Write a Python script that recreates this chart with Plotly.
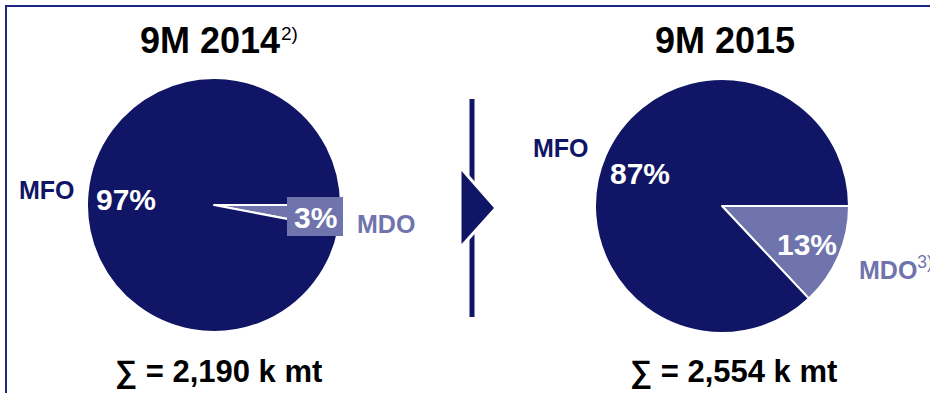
import plotly.graph_objects as go

# ---- data ----
fuel_types = ["MDO", "MFO"]
periods = ["9M 2014", "9M 2015"]
share_2014 = [3, 97]
share_2015 = [13, 87]
totals_kmt = ["2,190", "2,554"]
title_notes = ["2)", ""]
mdo_notes = ["", "3)"]

W, H = 930, 393
NAVY = "#111566"
LILAC = "#6F74AD"
FONT = "Arial, Liberation Sans, sans-serif"


def px(x):
    return x / W


def py(y):
    return 1 - y / H


fig = go.Figure()

centers = [(214, 205), (722, 206)]
R = 127
for (cx, cy), shares in zip(centers, [share_2014, share_2015]):
    fig.add_trace(go.Pie(
        labels=fuel_types, values=shares, sort=False, direction="clockwise",
        rotation=90, textinfo="none", hoverinfo="skip", showlegend=False,
        marker=dict(colors=[LILAC, NAVY], line=dict(color="white", width=2)),
        domain=dict(x=[px(cx - R), px(cx + R)], y=[py(cy + R), py(cy - R)]),
    ))

ann = []


def add(text, x, y, size, color, xanchor="center", bold=True):
    ann.append(dict(
        text=f"<b>{text}</b>" if bold else text, x=px(x), y=py(y),
        xref="paper", yref="paper", xanchor=xanchor, yanchor="middle",
        showarrow=False, font=dict(family=FONT, size=size, color=color),
    ))


# titles
add(periods[0], 210, 40, 36, "black")
add(title_notes[0], 279, 33, 19, "black", xanchor="left", bold=False)
add(periods[1], 725, 40, 36, "black")

# left pie labels
add(fuel_types[1], 47, 190, 25, NAVY)
add(f"{share_2014[1]}%", 126, 199, 30, "white")
add(f"{share_2014[0]}%", 315, 217, 30, "white")
add(fuel_types[0], 386, 224, 25, LILAC)

# right pie labels
add(fuel_types[1], 561, 148, 25, NAVY)
add(f"{share_2015[1]}%", 640, 173, 30, "white")
add(f"{share_2015[0]}%", 807, 244, 30, "white")
ann.append(dict(
    text=f"<b>{fuel_types[0]}</b><sup>{mdo_notes[1]}</sup>", x=px(857), y=py(268),
    xref="paper", yref="paper", xanchor="left", yanchor="middle",
    showarrow=False, font=dict(family=FONT, size=25, color=LILAC),
))

# totals
add(f"∑ = {totals_kmt[0]} k mt", 218, 371, 31, "black")
add(f"∑ = {totals_kmt[1]} k mt", 733, 371, 31, "black")

shapes = [
    # frame
    dict(type="rect", xref="paper", yref="paper", x0=px(6), x1=px(960),
         y0=py(420), y1=py(6), line=dict(color="#1E2585", width=2),
         fillcolor="rgba(0,0,0,0)", layer="below"),
    # label box behind the small share
    dict(type="rect", xref="paper", yref="paper", x0=px(287), x1=px(343),
         y0=py(236), y1=py(197), line=dict(width=0), fillcolor=LILAC,
         layer="above"),
    # divider line
    dict(type="line", xref="paper", yref="paper", x0=px(472), x1=px(472),
         y0=py(99), y1=py(317), line=dict(color=NAVY, width=5)),
    # arrow
    dict(type="path", xref="paper", yref="paper",
         path=f"M {px(460)},{py(167)} L {px(496)},{py(208)} L {px(460)},{py(248)} Z",
         fillcolor=NAVY, line=dict(color="white", width=3)),
]

fig.update_layout(
    width=W, height=H, margin=dict(l=0, r=0, t=0, b=0),
    paper_bgcolor="white", plot_bgcolor="white",
    annotations=ann, shapes=shapes,
)

fig.write_html("out.html")
